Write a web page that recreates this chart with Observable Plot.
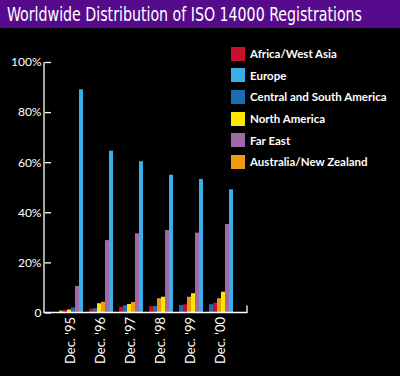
<!DOCTYPE html>
<html><head><meta charset="utf-8">
<script src="https://cdn.jsdelivr.net/npm/d3@7"></script>
<script src="https://cdn.jsdelivr.net/npm/@observablehq/plot@0.6"></script>
<style>
html,body{margin:0;padding:0;background:#000;}
#wrap{position:relative;width:400px;height:376px;overflow:hidden;background:#000;}
#title{height:28px;background:#560a8c;color:#fff;font-family:"DejaVu Sans Condensed","DejaVu Sans",sans-serif;font-size:19px;line-height:28px;white-space:nowrap;position:relative;overflow:hidden;}
#title span{position:absolute;left:7px;top:0;transform-origin:0 50%;display:inline-block;}
#legend{position:absolute;left:231px;top:43px;font-family:Lato,sans-serif;font-weight:700;font-size:11.5px;color:#fff;}
.row{display:flex;align-items:center;height:21.6px;}
.sw{width:14px;height:14px;margin-right:5px;flex:none;}
</style>
</head><body>
<div id="wrap">
  <div id="title"><span>Worldwide Distribution of ISO 14000 Registrations</span></div>
  <div id="chart"></div>
  <div id="legend"></div>
</div>
<script>
const periods = ["Dec. '95", "Dec. '96", "Dec. '97", "Dec. '98", "Dec. '99", "Dec. '00"];
const regions = ["Africa/West Asia", "Europe", "Central and South America", "North America", "Far East", "Australia/New Zealand"];
const colors = ["#c8102e", "#3aaee8", "#1a6db3", "#ffe600", "#a06aa8", "#ee9a10"];
const africa = [1.0, 1.5, 2.3, 2.5, 3.3, 3.9];
const europe = [89.1, 64.6, 60.4, 55.0, 53.3, 49.2];
const csAmerica = [2.0, 1.7, 2.9, 2.6, 3.0, 3.3];
const northAmerica = [1.2, 3.7, 3.4, 6.3, 7.7, 8.3];
const farEast = [10.6, 28.9, 31.6, 32.9, 31.9, 35.3];
const australia = [0.8, 4.3, 4.2, 5.7, 6.3, 5.7];
const yTicks = [0, 20, 40, 60, 80, 100];

const series = [africa, europe, csAmerica, northAmerica, farEast, australia];
const data = [];
periods.forEach((p, i) => {
  const rows = regions.map((r, j) => ({period: p, region: r, value: series[j][i]}));
  rows.slice().sort((a, b) => a.value - b.value).forEach((d, k) => { d.rank = k; });
  data.push(...rows);
});

const chart = Plot.plot({
  width: 400,
  height: 348,
  marginTop: 34,
  marginBottom: 63.5,
  marginLeft: 44,
  marginRight: 153,
  style: {background: "#000", color: "#fff", fontFamily: "Lato, sans-serif", overflow: "visible"},
  fx: {domain: periods, paddingInner: 0.085, paddingOuter: 0.4, label: null},
  x: {domain: [0, 1, 2, 3, 4, 5], padding: 0.06, axis: null},
  y: {domain: [0, 100], label: null},
  color: {domain: regions, range: colors},
  marks: [
    Plot.barY(data, {fx: "period", x: "rank", y: "value", fill: "region"}),
    Plot.axisY({ticks: yTicks, tickFormat: d => d === 0 ? "0" : d + "%", tickSize: -6, tickPadding: 10, dx: -12, fontSize: 12, label: null, stroke: "#fff", strokeWidth: 1.3}),
    Plot.axisFx({anchor: "bottom", tickRotate: -90, tickSize: 0, tickPadding: 4, fontSize: 13, label: null})
  ]
});
document.getElementById("chart").appendChild(chart);

// frame lines from the plot's own scales
const ys = chart.scale("y"), fxs = chart.scale("fx");
const [x0, x1] = fxs.range;
const yb = ys.apply(0), yt = ys.apply(100);
d3.select(chart).append("path")
  .attr("d", `M${x0},${yt}V${yb}H${x1}V${yb - 7}`)
  .attr("fill", "none").attr("stroke", "#fff").attr("stroke-width", 1.3);

const lg = d3.select("#legend");
regions.forEach((r, i) => {
  const row = lg.append("div").attr("class", "row");
  row.append("div").attr("class", "sw").style("background", colors[i]);
  row.append("span").text(r);
});

// fit the title into the width it takes in the reference
const ts = document.querySelector("#title span");
const w = ts.getBoundingClientRect().width;
ts.style.transform = `scaleX(${355 / w})`;
</script>
</body></html>
